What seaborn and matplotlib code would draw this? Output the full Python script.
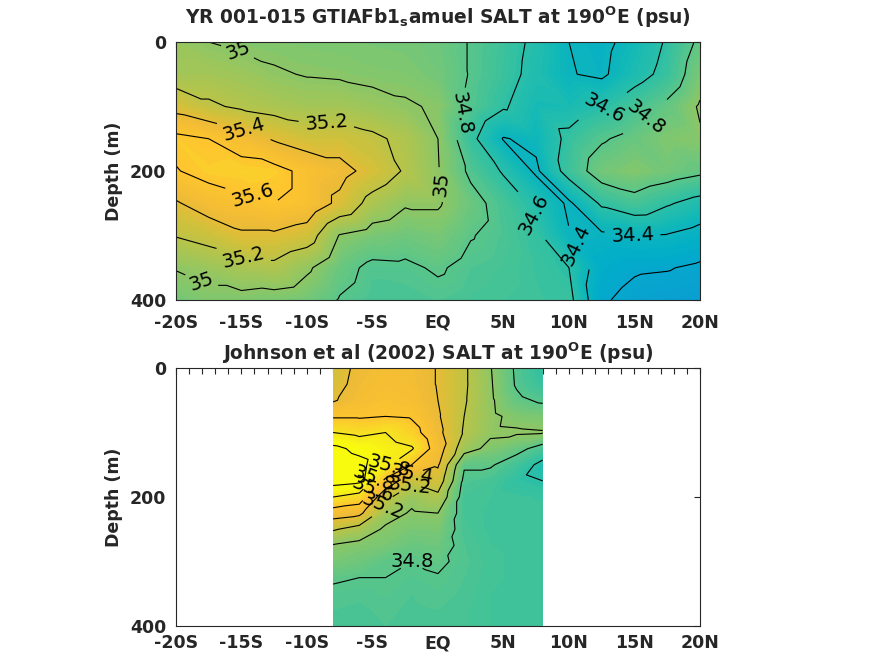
import numpy as np
import matplotlib
matplotlib.use("Agg")
import matplotlib.pyplot as plt
import matplotlib.tri as mtri
from matplotlib.colors import LinearSegmentedColormap
from matplotlib.ticker import MultipleLocator
import seaborn as sns

# ---------------- data ----------------
# model section at 190E, rows = depth (m), columns = latitude
model_lat = [-20, -17.5, -15, -12.5, -10, -7.5, -5, -2.5, 0, 2.5, 5, 7.5, 10, 12.5, 15, 17.5, 20]
model_depth = [0, 50, 100, 150, 200, 250, 300, 350, 400]
model_salt = [
    [35.05, 35.00, 34.97, 34.95, 34.94, 34.93, 34.92, 34.91, 34.88, 34.79, 34.68, 34.56, 34.40, 34.35, 34.47, 34.62, 34.84],
    [35.10, 35.10, 35.07, 35.02, 34.99, 34.98, 34.96, 34.95, 34.90, 34.79, 34.67, 34.54, 34.41, 34.37, 34.52, 34.66, 34.92],
    [35.33, 35.23, 35.17, 35.13, 35.10, 35.10, 35.06, 35.02, 34.98, 34.77, 34.62, 34.49, 34.50, 34.58, 34.72, 34.84, 35.02],
    [35.65, 35.60, 35.50, 35.38, 35.30, 35.30, 35.24, 35.15, 35.00, 34.65, 34.39, 34.44, 34.65, 34.78, 34.86, 34.95, 34.98],
    [35.59, 35.66, 35.68, 35.66, 35.55, 35.47, 35.33, 35.18, 35.01, 34.76, 34.58, 34.37, 34.68, 34.90, 34.96, 34.90, 34.84],
    [35.38, 35.50, 35.55, 35.60, 35.55, 35.35, 35.13, 35.02, 35.02, 34.87, 34.72, 34.56, 34.37, 34.63, 34.72, 34.62, 34.53],
    [35.21, 35.27, 35.37, 35.37, 35.30, 34.99, 34.92, 34.88, 34.92, 34.81, 34.74, 34.64, 34.41, 34.37, 34.40, 34.39, 34.33],
    [35.01, 35.06, 35.12, 35.15, 35.03, 34.86, 34.76, 34.77, 34.82, 34.75, 34.72, 34.67, 34.60, 34.28, 34.22, 34.21, 34.17],
    [34.90, 34.95, 34.95, 34.93, 34.90, 34.79, 34.73, 34.73, 34.75, 34.72, 34.70, 34.68, 34.66, 34.22, 34.15, 34.12, 34.10],
]

# Johnson et al (2002) section, only 8S-8N
obs_lat = [-8, -6, -4, -2, 0, 2, 4, 6, 8]
obs_depth = [0, 25, 50, 75, 100, 125, 150, 175, 200, 225, 250, 275, 300, 325, 350, 375, 400]
obs_salt = [
    [35.30, 35.45, 35.50, 35.48, 35.39, 35.23, 35.01, 34.77, 34.62],
    [35.32, 35.47, 35.52, 35.49, 35.39, 35.23, 35.02, 34.78, 34.66],
    [35.38, 35.50, 35.55, 35.52, 35.40, 35.22, 35.03, 34.84, 34.77],
    [35.58, 35.58, 35.60, 35.58, 35.42, 35.20, 35.04, 34.95, 34.93],
    [35.80, 35.75, 35.80, 35.68, 35.45, 35.18, 35.03, 35.02, 35.01],
    [36.05, 35.95, 35.88, 35.82, 35.50, 35.08, 34.95, 34.86, 34.72],
    [36.12, 36.06, 35.85, 35.60, 35.42, 34.82, 34.82, 34.70, 34.55],
    [36.08, 36.04, 35.55, 35.25, 35.32, 34.76, 34.72, 34.63, 34.60],
    [35.80, 35.72, 35.25, 35.05, 35.15, 34.72, 34.70, 34.68, 34.67],
    [35.50, 35.45, 35.08, 34.98, 35.00, 34.72, 34.69, 34.69, 34.69],
    [35.22, 35.12, 34.97, 34.92, 34.93, 34.73, 34.69, 34.69, 34.69],
    [34.99, 34.95, 34.92, 34.86, 34.88, 34.75, 34.70, 34.69, 34.69],
    [34.92, 34.88, 34.81, 34.80, 34.83, 34.76, 34.71, 34.69, 34.69],
    [34.82, 34.80, 34.80, 34.77, 34.79, 34.75, 34.71, 34.69, 34.69],
    [34.77, 34.76, 34.78, 34.75, 34.77, 34.74, 34.70, 34.69, 34.69],
    [34.75, 34.74, 34.76, 34.74, 34.75, 34.73, 34.70, 34.69, 34.69],
    [34.74, 34.73, 34.75, 34.73, 34.74, 34.73, 34.70, 34.69, 34.70],
]

lat_ticks = [-20, -15, -10, -5, 0, 5, 10, 15, 20]
lat_labels = ["-20S", "-15S", "-10S", "-5S", "EQ", "5N", "10N", "15N", "20N"]
depth_ticks = [0, 200, 400]

titles = [r"YR 001-015 GTIAFb1$_{\mathbf{s}}$amuel SALT at 190$^{\mathbf{O}}$E (psu)",
          r"Johnson et al (2002) SALT at 190$^{\mathbf{O}}$E (psu)"]

# where the contour labels sit (lat, depth)
model_label_spots = [(-15.4, 23), (-14.9, 143), (-8.5, 130), (-14.3, 245), (-14.9, 338),
                     (-17.9, 365), (2.3, 117), (0.2, 221), (12.9, 115), (16.3, 130),
                     (7.6, 265), (10.3, 318), (14.8, 307)]
obs_label_spots = [(-5.0, 158), (-3.8, 143), (-2.0, 160), (-2.1, 190), (-4.2, 219),
                   (-4.9, 195), (-2.0, 297)]


def grid_triangles(lat, dep, along_slope):
    # split each grid cell into two triangles; pick the diagonal that
    # follows the sloping features of the section
    nx, ny = len(lat), len(dep)
    xx, yy = np.meshgrid(lat, dep)
    tris = []
    for j in range(ny - 1):
        for i in range(nx - 1):
            a = j * nx + i
            b, c, d = a + 1, a + nx, a + nx + 1
            if along_slope:
                tris += [[a, b, d], [a, d, c]]
            else:
                tris += [[a, b, c], [b, d, c]]
    return mtri.Triangulation(xx.ravel(), yy.ravel(), tris)


# ---------------- style ----------------
sns.set_style("white")
plt.rcParams["font.family"] = ["DejaVu Sans"]
plt.rcParams["font.weight"] = "bold"

# parula-like colour map (MATLAB default)
parula = LinearSegmentedColormap.from_list("parula", [
    (0.2081, 0.1663, 0.5292), (0.2052, 0.2657, 0.7648), (0.1707, 0.3766, 0.9061),
    (0.0786, 0.4803, 0.8774), (0.0564, 0.5613, 0.8458), (0.0313, 0.6319, 0.8181),
    (0.0085, 0.6844, 0.7833), (0.0645, 0.7212, 0.7245), (0.1857, 0.7537, 0.6449),
    (0.3392, 0.7727, 0.5458), (0.5059, 0.7796, 0.4328), (0.6583, 0.7741, 0.3262),
    (0.8035, 0.7581, 0.2364), (0.9393, 0.7302, 0.2118), (0.9947, 0.7735, 0.1799),
    (0.9632, 0.8818, 0.1370), (0.9763, 0.9831, 0.0538)])
vmin, vmax = 33.3, 35.95
fill_levels = np.linspace(33.9, 36.3, 97)
line_levels = np.round(np.arange(34.0, 36.21, 0.2), 1)

fig = plt.figure(figsize=(8.75, 6.56), dpi=100)
ax1 = fig.add_axes([0.201, 0.5427, 0.599, 0.3933])
ax2 = fig.add_axes([0.201, 0.0457, 0.599, 0.3933])

panels = [(ax1, model_lat, model_depth, model_salt, model_label_spots, True, 13, 10),
          (ax2, obs_lat, obs_depth, obs_salt, obs_label_spots, False, 6, 6)]
for i, (ax, lat, dep, salt, spots, slope, tpad, xpad) in enumerate(panels):
    tri = grid_triangles(lat, dep, slope)
    z = np.asarray(salt).ravel()
    ax.tricontourf(tri, z, levels=fill_levels, cmap=parula, vmin=vmin, vmax=vmax,
                   extend="both")
    cs = ax.tricontour(tri, z, levels=line_levels, colors="k", linewidths=0.8)
    txt = ax.clabel(cs, fmt="%g", fontsize=14, inline=True, inline_spacing=4, manual=spots)
    for t in txt:
        t.set_fontweight("normal")
    ax.set_xlim(-20, 20)
    ax.set_ylim(400, 0)
    ax.set_xticks(lat_ticks)
    ax.set_xticklabels(lat_labels, fontsize=12.5, fontweight="bold")
    ax.set_yticks(depth_ticks)
    ax.set_yticklabels([str(d) for d in depth_ticks], fontsize=12.5, fontweight="bold")
    ax.xaxis.set_minor_locator(MultipleLocator(1))
    ax.tick_params(which="both", direction="in", top=True, right=True, length=4, width=0.8)
    ax.tick_params(axis="x", which="major", pad=xpad)
    ax.tick_params(axis="y", which="major", pad=7)
    ax.set_ylabel("Depth (m)", fontsize=12.5, fontweight="bold", labelpad=5)
    ax.set_title(titles[i], fontsize=13.4, fontweight="bold", pad=tpad)
    for s in ax.spines.values():
        s.set_linewidth(0.8)
        s.set_color("#262626")
    ax.set_facecolor("white")

fig.savefig("out.png", dpi=100)
